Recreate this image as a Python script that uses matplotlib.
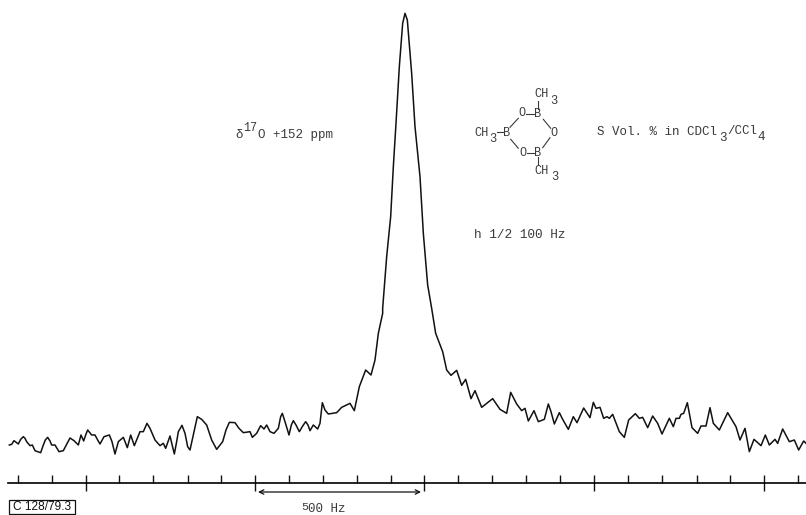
import matplotlib
matplotlib.use("Agg")
import matplotlib.pyplot as plt
from matplotlib.patches import Rectangle
import numpy as np

# spectrum trace, read off in four pieces. each piece has its own origin
# and the numbers are at 3x, so they get converted to image pixels below
left_px = [28, 35, 42, 55, 62, 70, 75, 80, 90, 97, 105, 113, 122, 130, 136, 143, 150, 155, 165, 177, 190, 200, 210, 222, 235, 243, 251, 257, 263, 275, 285, 293, 300, 312, 328, 336, 345, 355, 370, 382, 392, 403, 412, 420, 430, 441, 450, 465, 480, 490, 497, 510, 523, 530, 535, 546, 555, 563, 570, 580, 592, 605, 620, 635, 650, 668, 678, 688, 705, 717, 730, 750, 757, 770, 782, 792, 800, 810]
left_py = [195, 193, 182, 192, 178, 170, 175, 185, 197, 195, 212, 215, 218, 195, 180, 172, 183, 195, 195, 215, 212, 193, 174, 182, 195, 165, 183, 165, 150, 165, 165, 180, 192, 170, 165, 185, 222, 185, 172, 203, 165, 197, 175, 155, 155, 130, 145, 180, 197, 190, 205, 168, 222, 185, 155, 136, 160, 200, 210, 165, 110, 118, 135, 180, 208, 185, 150, 127, 128, 145, 158, 155, 172, 160, 137, 147, 135, 155]
mid_left_px = [12, 25, 32, 37, 45, 57, 64, 70, 78, 88, 98, 107, 114, 120, 130, 143, 150, 157, 165, 175, 200, 215, 240, 253, 268, 287, 303, 315, 325, 338]
mid_left_py = [400, 385, 350, 340, 365, 405, 375, 362, 375, 395, 378, 365, 375, 392, 375, 387, 370, 308, 330, 342, 338, 322, 310, 332, 260, 210, 225, 180, 100, 40]
peak_px = [68, 80, 92, 100, 108, 118, 128, 135, 142, 155, 165, 180, 190, 203, 215]
peak_py = [925, 770, 650, 500, 370, 200, 70, 40, 60, 220, 380, 530, 700, 855, 925]
mid_right_px = [497, 518, 530, 543, 560, 575, 587, 603, 615, 635, 668, 690, 710, 722, 740, 755, 765, 775, 792, 805]
mid_right_py = [100, 155, 210, 226, 211, 256, 238, 296, 272, 322, 296, 328, 340, 277, 312, 332, 325, 363, 332, 365]
right_px = [25, 37, 45, 55, 70, 80, 97, 112, 123, 143, 162, 172, 180, 192, 203, 213, 220, 230, 250, 265, 278, 298, 310, 320, 335, 350, 365, 378, 400, 412, 420, 430, 435, 443, 454, 468, 485, 495, 510, 522, 532, 550, 575, 600, 612, 627, 640, 654, 675, 688, 700, 717, 725, 740, 760, 775, 788, 803, 810]
right_py = [118, 72, 95, 132, 98, 118, 148, 110, 128, 84, 113, 67, 85, 82, 115, 110, 115, 103, 155, 172, 120, 101, 115, 112, 143, 108, 130, 162, 115, 140, 115, 115, 103, 100, 68, 143, 160, 138, 138, 83, 130, 150, 98, 140, 180, 145, 215, 178, 197, 165, 195, 178, 190, 147, 185, 180, 210, 183, 190]

x_major = [86, 255, 424, 594, 764]
x_minor = [18, 52, 119, 153, 188, 221, 289, 323, 357, 391, 458, 492, 526, 560, 628, 662, 697, 730, 798]

trace_x = np.concatenate([np.array(left_px) / 3, 270 + np.array(mid_left_px) / 3, 360 + np.array(peak_px) / 3,
                          270 + np.array(mid_right_px) / 3, 536 + np.array(right_px) / 3])
trace_y = np.concatenate([380 + np.array(left_py) / 3, 300 + np.array(mid_left_py) / 3, np.array(peak_py) / 3,
                          300 + np.array(mid_right_py) / 3, 380 + np.array(right_py) / 3])

plt.rcParams['font.family'] = ['Liberation Mono', 'DejaVu Sans']
ink = '#111111'
txt = '#3a3a3a'

fig = plt.figure(figsize=(8.06, 5.15), dpi=100)
ax = fig.add_axes([0, 0, 1, 1])
ax.set_xlim(0, 806)
ax.set_ylim(515, 0)

ax.plot(trace_x, trace_y, color=ink, lw=1.1, solid_joinstyle='round')

# scale bar along the bottom
for s in ['top', 'left', 'right']:
    ax.spines[s].set_visible(False)
ax.spines['bottom'].set_position(('data', 482.5))
ax.spines['bottom'].set_bounds(8, 806)
ax.spines['bottom'].set_linewidth(1.2)
ax.set_yticks([])
ax.set_xticks(x_major)
ax.set_xticks(x_minor, minor=True)
ax.set_xticklabels([])
ax.tick_params(axis='x', which='major', direction='inout', length=12, width=1.0, color=ink)
ax.tick_params(axis='x', which='minor', direction='in', length=5.5, width=1.0, color=ink)

ax.annotate('', xy=(421, 492), xytext=(258, 492),
            arrowprops=dict(arrowstyle='<->', lw=0.9, color=ink, mutation_scale=8, shrinkA=0, shrinkB=0))


def label(x, y, s, size=9, ha='left'):
    ax.text(x, y, s, fontsize=size, color=txt, ha=ha, va='center')


label(235, 135, '\u03b4')
label(243, 128, '17', 8.5)
label(258, 135, 'O +152 ppm')
label(474, 235, 'h 1/2 100 Hz', 9.2)
label(301.5, 506.5, '5', 8.2)
label(308.5, 508.5, '00 Hz')
label(597, 132, 'S Vol. % in CDCl')
label(719.5, 138, '3')
label(727, 131, '/CCl')
label(757, 137, '4')

# ring structure
for x, y, s in [(541.5, 94, 'CH'), (522, 113.5, 'O'), (537.7, 114, 'B'), (554, 132.5, 'O'), (507, 133, 'B'),
                (481.5, 133, 'CH'), (522.5, 152.5, 'O'), (538, 152.5, 'B'), (541.5, 171.5, 'CH')]:
    label(x, y, s, 8.6, 'center')
for x, y in [(553.5, 100.5), (492.7, 139), (555, 177.5)]:
    label(x, y, '3', 8.6, 'center')
bonds = [((526, 113.7), (534, 113.7)), ((537.7, 100.7), (537.7, 109.3)), ((543.3, 119.3), (550.7, 128.3)),
         ((550, 137.7), (542.7, 147.7)), ((534, 152.7), (526.7, 152.7)), ((518.3, 148.3), (510.7, 139.3)),
         ((510, 127.3), (518.3, 118.3)), ((538.3, 157.3), (538.3, 165)), ((496.7, 132.3), (502.7, 132.3))]
for a, b in bonds:
    ax.plot([a[0], b[0]], [a[1], b[1]], color=txt, lw=0.8)

# figure code in its box
ax.add_patch(Rectangle((9, 500), 66, 14, fc='white', ec=ink, lw=0.9))
ax.text(42, 507, 'C 128/79.3', fontsize=8.6, color=ink, ha='center', va='center', family='Liberation Sans')

fig.savefig('out.png', dpi=100)
